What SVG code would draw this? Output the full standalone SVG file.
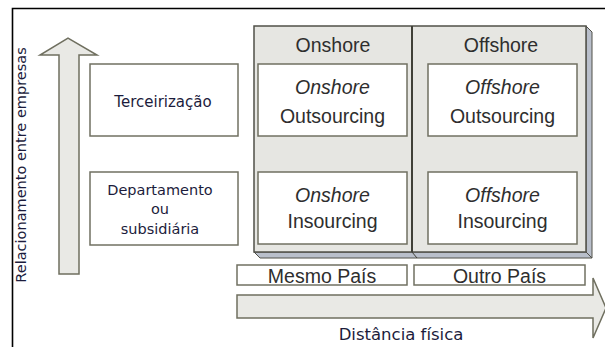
<svg xmlns="http://www.w3.org/2000/svg" width="605" height="347" viewBox="0 0 605 347">
<style>
.frame{fill:none;stroke:#000;stroke-width:1.6}
.arrow{fill:#e9e9e5;stroke:#6f6f5f;stroke-width:1.5}
.box{fill:#fff;stroke:#707062;stroke-width:1.5}
.panel{fill:#e6e6e2;stroke:#505048;stroke-width:1.5}
.side{fill:#b9bfcb;stroke:#505048;stroke-width:1}
.lab{font-family:"DejaVu Sans","Open Sans",sans-serif;fill:#1c1c3c;text-anchor:middle}
.ar{font-family:"Liberation Sans",Arial,sans-serif;fill:#2e2e2e;text-anchor:middle}
</style>
<rect x="0" y="0" width="605" height="347" fill="#fff"/>
<path class="frame" d="M12.5,347 V8.5 H605"/>
<g id="connectors">
<path id="up-arrow" class="arrow" d="M59,274 V55 H40 L68,38 L97,55 H79 V274 Z"/>
<path id="right-arrow" class="arrow" d="M237,295 H593 V278 L606,308 L593,338 V318 H237 Z"/>
</g>
<text class="lab" font-size="14.5" transform="translate(26,165) rotate(-90)">Relacionamento entre empresas</text>
<g id="panel">
<path class="side" d="M586,26 L592,32 V258 L586,252 Z"/>
<path class="side" d="M254,252 L586,252 L592,258 L260,258 Z"/>
<rect class="panel" x="254" y="26" width="332" height="226"/>
<line x1="412" y1="26" x2="412" y2="252" stroke="#404038" stroke-width="2"/>
<line x1="412" y1="252" x2="417" y2="258" stroke="#404038" stroke-width="1"/>
</g>
<g id="onshore-header"><text class="ar" x="333" y="52" font-size="19.5">Onshore</text></g>
<g id="offshore-header"><text class="ar" x="501" y="52" font-size="19.5">Offshore</text></g>
<g id="onshore-outsourcing">
<rect class="box" x="258" y="64" width="149" height="72"/>
<text class="ar" x="332.5" y="94" font-size="19.5" font-style="italic">Onshore</text>
<text class="ar" x="332.5" y="123" font-size="19.5">Outsourcing</text>
</g>
<g id="offshore-outsourcing">
<rect class="box" x="428" y="64" width="149" height="72"/>
<text class="ar" x="502.5" y="94" font-size="19.5" font-style="italic">Offshore</text>
<text class="ar" x="502.5" y="123" font-size="19.5">Outsourcing</text>
</g>
<g id="onshore-insourcing">
<rect class="box" x="258" y="172" width="149" height="72"/>
<text class="ar" x="332.5" y="202" font-size="19.5" font-style="italic">Onshore</text>
<text class="ar" x="332.5" y="228" font-size="19.5">Insourcing</text>
</g>
<g id="offshore-insourcing">
<rect class="box" x="428" y="172" width="149" height="72"/>
<text class="ar" x="502.5" y="202" font-size="19.5" font-style="italic">Offshore</text>
<text class="ar" x="502.5" y="228" font-size="19.5">Insourcing</text>
</g>
<g id="terceirizacao">
<rect class="box" x="90" y="64" width="148" height="72"/>
<text class="lab" x="163" y="107" font-size="15">Terceirização</text>
</g>
<g id="departamento">
<rect class="box" x="90" y="172" width="148" height="73"/>
<text class="lab" x="160" y="195" font-size="14.5">Departamento</text>
<text class="lab" x="160" y="214" font-size="14.5">ou</text>
<text class="lab" x="160" y="234" font-size="14.5">subsidiária</text>
</g>
<g id="mesmo-pais">
<rect class="box" x="237" y="265" width="170" height="20" stroke-width="1.2"/>
<text class="ar" x="322" y="283" font-size="19.5">Mesmo País</text>
</g>
<g id="outro-pais">
<rect class="box" x="414" y="265" width="171" height="20" stroke-width="1.2"/>
<text class="ar" x="499.5" y="283" font-size="19.5">Outro País</text>
</g>
<text class="lab" x="401" y="340" font-size="16.5">Distância física</text>
</svg>
